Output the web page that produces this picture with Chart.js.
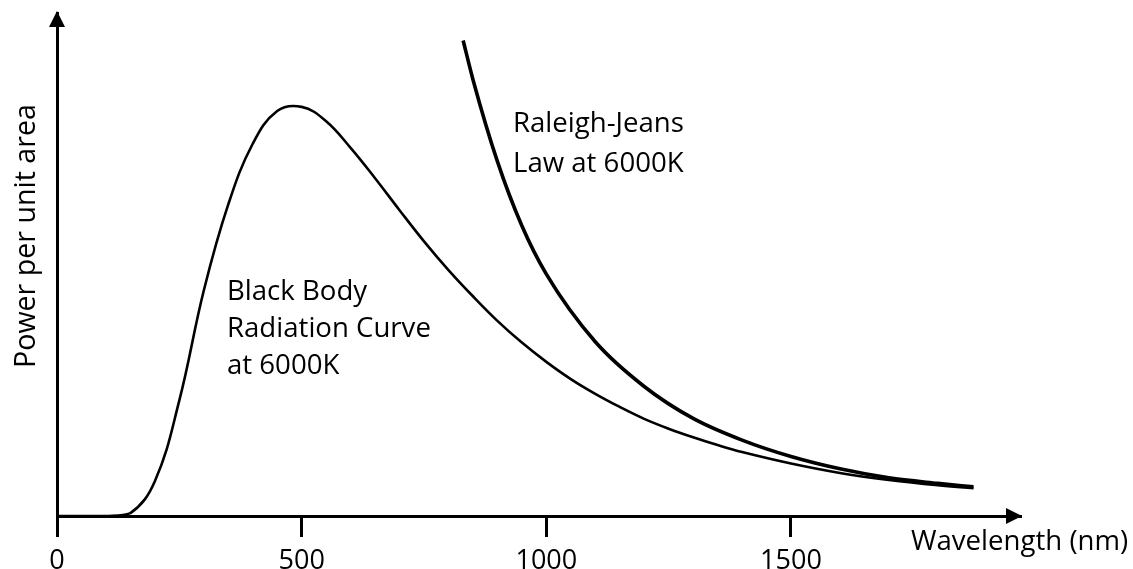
<!DOCTYPE html>
<html>
<head>
<meta charset="utf-8">
<script src="https://cdn.jsdelivr.net/npm/chart.js@4/dist/chart.umd.min.js"></script>
<style>
  html, body { margin: 0; padding: 0; background: #fff; }
  #wrap { width: 1133px; height: 569px; position: relative; }
</style>
</head>
<body>
<div id="wrap"><canvas id="c" width="1133" height="569"></canvas></div>
<script>
// ---- data (arbitrary power units, peak = 100) ----
const xTicks = [0, 500, 1000, 1500];
const bbWavelength = [0, 50, 100, 150, 200, 250, 300, 350, 400, 450, 500, 550, 600, 650, 700, 750, 800, 850, 900, 950, 1000, 1050, 1100, 1150, 1200, 1250, 1300, 1350, 1400, 1500, 1600, 1700, 1800, 1873];
const bbPower      = [0, 0, 0, 0.7, 8.5, 28.2, 55.0, 76.0, 90.8, 98.8, 99.8, 96.3, 89.8, 82.4, 74.6, 67.0, 60.0, 53.6, 47.6, 42.3, 37.6, 33.4, 29.8, 26.6, 23.7, 21.3, 19.2, 17.3, 15.6, 12.8, 10.5, 8.8, 7.5, 6.8];
const rjWavelength = [830, 850, 900, 950, 1000, 1100, 1200, 1300, 1400, 1500, 1600, 1700, 1800, 1873];
const rjPower      = [116.0, 106.5, 86.5, 70.8, 59.0, 42.5, 31.6, 23.8, 18.5, 14.5, 11.5, 9.3, 7.95, 7.1];
const xMax = 1968;
const yMax = 122.7;

const FONT = "'Open Sans', 'Noto Sans', sans-serif";

const toPts = (xs, ys) => xs.map((x, i) => ({ x: x, y: ys[i] }));

const annotate = {
  id: 'annotate',
  afterDraw(chart) {
    const ctx = chart.ctx;
    const a = chart.chartArea;
    ctx.save();
    ctx.fillStyle = '#000';
    // arrow heads
    ctx.beginPath();
    ctx.moveTo(a.right + 2, a.bottom);
    ctx.lineTo(a.right - 14, a.bottom - 8);
    ctx.lineTo(a.right - 14, a.bottom + 8);
    ctx.closePath();
    ctx.fill();
    ctx.beginPath();
    ctx.moveTo(a.left, a.top - 2);
    ctx.lineTo(a.left - 8, a.top + 14);
    ctx.lineTo(a.left + 8, a.top + 14);
    ctx.closePath();
    ctx.fill();
    // texts
    ctx.font = '27.6px ' + FONT;
    ctx.textAlign = 'left';
    ctx.textBaseline = 'alphabetic';
    ctx.fillText('Black Body', 227, 300);
    ctx.fillText('Radiation Curve', 227, 337);
    ctx.fillText('at 6000K', 227, 374);
    ctx.fillText('Raleigh-Jeans', 513, 132);
    ctx.fillText('Law at 6000K', 513, 172);
    ctx.fillText('Wavelength (nm)', 911, 550);
    ctx.font = '28.6px ' + FONT;
    ctx.translate(35, 368);
    ctx.rotate(-Math.PI / 2);
    ctx.fillText('Power per unit area', 0, 0);
    ctx.restore();
  }
};

new Chart(document.getElementById('c'), {
  type: 'line',
  data: {
    datasets: [
      {
        label: 'Black Body Radiation Curve at 6000K',
        data: toPts(bbWavelength, bbPower),
        borderColor: '#000',
        borderWidth: 2.6,
        pointRadius: 0,
        fill: false,
        tension: 0.4,
        cubicInterpolationMode: 'default'
      },
      {
        label: 'Raleigh-Jeans Law at 6000K',
        data: toPts(rjWavelength, rjPower),
        borderColor: '#000',
        borderWidth: 3.6,
        pointRadius: 0,
        fill: false,
        cubicInterpolationMode: 'monotone'
      }
    ]
  },
  options: {
    responsive: false,
    animation: false,
    events: [],
    layout: { padding: { left: 57, right: 113, top: 13, bottom: 0 } },
    plugins: { legend: { display: false }, tooltip: { enabled: false }, title: { display: false } },
    scales: {
      x: {
        type: 'linear',
        min: 0,
        max: xMax,
        afterBuildTicks: (s) => { s.ticks = xTicks.map(v => ({ value: v })); },
        afterFit: (s) => { s.height = 53; },
        ticks: {
          color: '#000',
          font: { family: FONT, size: 27 },
          padding: 8,
          maxRotation: 0,
          autoSkip: false,
          callback: (v) => String(v)
        },
        grid: {
          drawOnChartArea: false,
          drawTicks: true,
          tickLength: 21,
          color: '#000',
          lineWidth: 3
        },
        border: { display: true, color: '#000', width: 3 }
      },
      y: {
        min: 0,
        max: yMax,
        afterFit: (s) => { s.width = 0; },
        ticks: { display: false },
        grid: { display: false, drawTicks: false },
        border: { display: true, color: '#000', width: 3 }
      }
    }
  },
  plugins: [annotate]
});
</script>
</body>
</html>
